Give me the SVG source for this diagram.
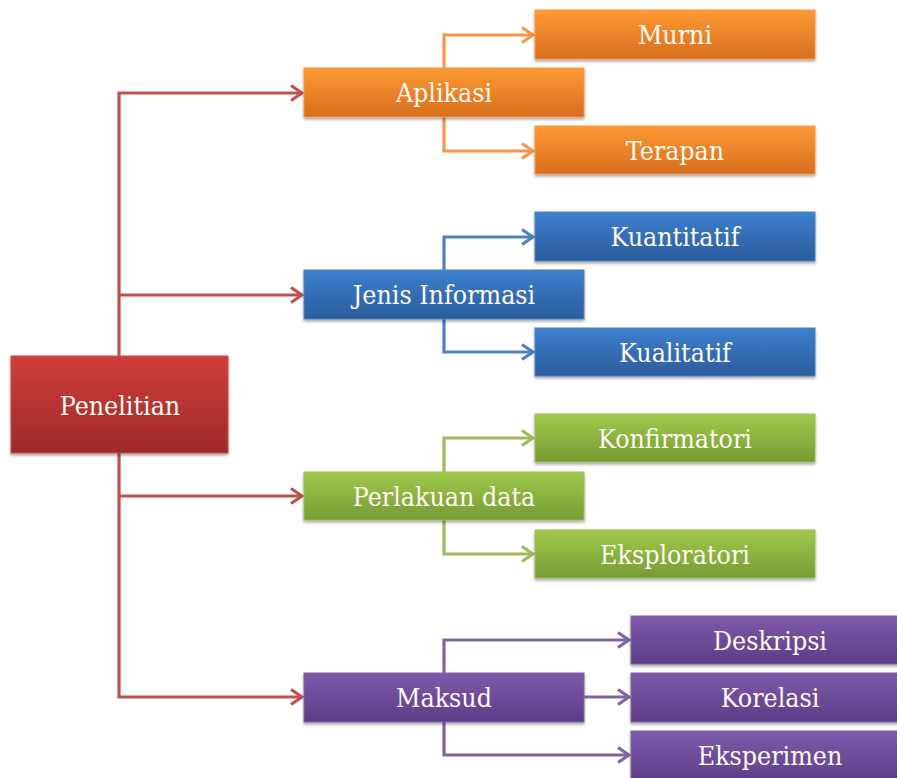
<svg xmlns="http://www.w3.org/2000/svg" width="897" height="778" viewBox="0 0 897 778">
  <defs>
    <style>
      .lbl { font-family: "DejaVu Serif Condensed", "DejaVu Serif", "Liberation Serif", serif; font-stretch: condensed; font-size: 26.5px; fill: #fffaf4; text-anchor: middle; }
      .box { filter: url(#shadow); stroke-width: 1; }
      .ln { fill: none; stroke-width: 3.2; stroke-linejoin: miter; }
      .red { stroke: #c0504d; }
      .org { stroke: #f79646; }
      .blu { stroke: #4f81bd; }
      .grn { stroke: #9bbb59; }
      .pur { stroke: #8064a2; }
    </style>
    <filter id="shadow" x="-10%" y="-20%" width="120%" height="150%">
      <feDropShadow dx="0" dy="2" stdDeviation="1.8" flood-color="#000" flood-opacity="0.35"/>
    </filter>
    <linearGradient id="gRed" x1="0" y1="0" x2="0" y2="1">
      <stop offset="0" stop-color="#d13e3b"/>
      <stop offset="1" stop-color="#9d2a28"/>
    </linearGradient>
    <linearGradient id="gOrg" x1="0" y1="0" x2="0" y2="1">
      <stop offset="0" stop-color="#ff9933"/>
      <stop offset="1" stop-color="#d66e1f"/>
    </linearGradient>
    <linearGradient id="gBlu" x1="0" y1="0" x2="0" y2="1">
      <stop offset="0" stop-color="#3d80cf"/>
      <stop offset="1" stop-color="#2b5c9b"/>
    </linearGradient>
    <linearGradient id="gGrn" x1="0" y1="0" x2="0" y2="1">
      <stop offset="0" stop-color="#a0ca4b"/>
      <stop offset="1" stop-color="#769b35"/>
    </linearGradient>
    <linearGradient id="gPur" x1="0" y1="0" x2="0" y2="1">
      <stop offset="0" stop-color="#7f5aab"/>
      <stop offset="1" stop-color="#5c3d86"/>
    </linearGradient>
    <marker id="aRed" viewBox="-13 -9 15 18" refX="0" refY="0" markerWidth="15" markerHeight="18" markerUnits="userSpaceOnUse" orient="auto">
      <path d="M-11,-7.5 L0,0 L-11,7.5" fill="none" stroke="#c0504d" stroke-width="3.2"/>
    </marker>
    <marker id="aOrg" viewBox="-13 -9 15 18" refX="0" refY="0" markerWidth="15" markerHeight="18" markerUnits="userSpaceOnUse" orient="auto">
      <path d="M-11,-7.5 L0,0 L-11,7.5" fill="none" stroke="#f79646" stroke-width="3.2"/>
    </marker>
    <marker id="aBlu" viewBox="-13 -9 15 18" refX="0" refY="0" markerWidth="15" markerHeight="18" markerUnits="userSpaceOnUse" orient="auto">
      <path d="M-11,-7.5 L0,0 L-11,7.5" fill="none" stroke="#4f81bd" stroke-width="3.2"/>
    </marker>
    <marker id="aGrn" viewBox="-13 -9 15 18" refX="0" refY="0" markerWidth="15" markerHeight="18" markerUnits="userSpaceOnUse" orient="auto">
      <path d="M-11,-7.5 L0,0 L-11,7.5" fill="none" stroke="#9bbb59" stroke-width="3.2"/>
    </marker>
    <marker id="aPur" viewBox="-13 -9 15 18" refX="0" refY="0" markerWidth="15" markerHeight="18" markerUnits="userSpaceOnUse" orient="auto">
      <path d="M-11,-7.5 L0,0 L-11,7.5" fill="none" stroke="#8064a2" stroke-width="3.2"/>
    </marker>
  </defs>

  <rect width="897" height="778" fill="#ffffff"/>

  <!-- connectors -->
  <g id="connectors">
    <!-- trunk from the root to the four categories -->
    <path class="ln red" d="M119,356 V93 H302" marker-end="url(#aRed)"/>
    <path class="ln red" d="M119,295 H302" marker-end="url(#aRed)"/>
    <path class="ln red" d="M119,453 V697 H302" marker-end="url(#aRed)"/>
    <path class="ln red" d="M119,496 H302" marker-end="url(#aRed)"/>
    <!-- Aplikasi -->
    <path class="ln org" d="M444,68 V35 H533" marker-end="url(#aOrg)"/>
    <path class="ln org" d="M444,117 V151 H533" marker-end="url(#aOrg)"/>
    <!-- Jenis Informasi -->
    <path class="ln blu" d="M444,270 V237 H533" marker-end="url(#aBlu)"/>
    <path class="ln blu" d="M444,319 V352 H533" marker-end="url(#aBlu)"/>
    <!-- Perlakuan data -->
    <path class="ln grn" d="M444,472 V438 H533" marker-end="url(#aGrn)"/>
    <path class="ln grn" d="M444,520 V554 H533" marker-end="url(#aGrn)"/>
    <!-- Maksud -->
    <path class="ln pur" d="M444,673 V640 H629" marker-end="url(#aPur)"/>
    <path class="ln pur" d="M584,697 H629" marker-end="url(#aPur)"/>
    <path class="ln pur" d="M444,722 V755 H629" marker-end="url(#aPur)"/>
  </g>

  <!-- root -->
  <g id="penelitian">
    <rect class="box" x="11" y="356" width="217" height="97" fill="url(#gRed)" stroke="#c0504d"/>
    <text class="lbl" x="120" y="415">Penelitian</text>
  </g>

  <!-- Aplikasi branch -->
  <g id="aplikasi">
    <rect class="box" x="304" y="68" width="280" height="49" fill="url(#gOrg)" stroke="#f79646"/>
    <text class="lbl" x="444" y="102">Aplikasi</text>
  </g>
  <g id="murni">
    <rect class="box" x="535" y="10" width="280" height="49" fill="url(#gOrg)" stroke="#f79646"/>
    <text class="lbl" x="675" y="44">Murni</text>
  </g>
  <g id="terapan">
    <rect class="box" x="535" y="126" width="280" height="48" fill="url(#gOrg)" stroke="#f79646"/>
    <text class="lbl" x="675" y="160">Terapan</text>
  </g>

  <!-- Jenis Informasi branch -->
  <g id="jenis-informasi">
    <rect class="box" x="304" y="270" width="280" height="49" fill="url(#gBlu)" stroke="#4f81bd"/>
    <text class="lbl" x="444" y="304">Jenis Informasi</text>
  </g>
  <g id="kuantitatif">
    <rect class="box" x="535" y="212" width="280" height="49" fill="url(#gBlu)" stroke="#4f81bd"/>
    <text class="lbl" x="675" y="246">Kuantitatif</text>
  </g>
  <g id="kualitatif">
    <rect class="box" x="535" y="328" width="280" height="48" fill="url(#gBlu)" stroke="#4f81bd"/>
    <text class="lbl" x="675" y="362">Kualitatif</text>
  </g>

  <!-- Perlakuan data branch -->
  <g id="perlakuan-data">
    <rect class="box" x="304" y="472" width="280" height="48" fill="url(#gGrn)" stroke="#9bbb59"/>
    <text class="lbl" x="444" y="506">Perlakuan data</text>
  </g>
  <g id="konfirmatori">
    <rect class="box" x="535" y="414" width="280" height="48" fill="url(#gGrn)" stroke="#9bbb59"/>
    <text class="lbl" x="675" y="448">Konfirmatori</text>
  </g>
  <g id="eksploratori">
    <rect class="box" x="535" y="530" width="280" height="48" fill="url(#gGrn)" stroke="#9bbb59"/>
    <text class="lbl" x="675" y="564">Eksploratori</text>
  </g>

  <!-- Maksud branch -->
  <g id="maksud">
    <rect class="box" x="304" y="673" width="280" height="49" fill="url(#gPur)" stroke="#8064a2"/>
    <text class="lbl" x="444" y="707">Maksud</text>
  </g>
  <g id="deskripsi">
    <rect class="box" x="631" y="616" width="280" height="48" fill="url(#gPur)" stroke="#8064a2"/>
    <text class="lbl" x="770" y="650">Deskripsi</text>
  </g>
  <g id="korelasi">
    <rect class="box" x="631" y="673" width="280" height="49" fill="url(#gPur)" stroke="#8064a2"/>
    <text class="lbl" x="770" y="707">Korelasi</text>
  </g>
  <g id="eksperimen">
    <rect class="box" x="631" y="731" width="280" height="52" fill="url(#gPur)" stroke="#8064a2"/>
    <text class="lbl" x="770" y="765">Eksperimen</text>
  </g>
</svg>
